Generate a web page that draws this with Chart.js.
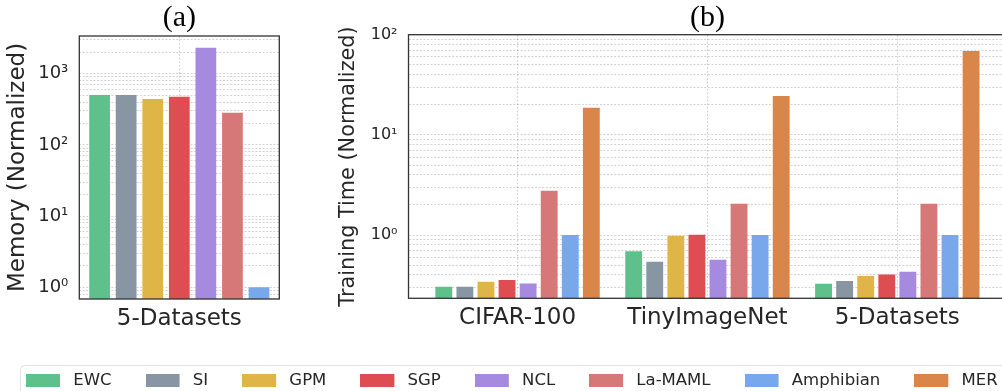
<!DOCTYPE html>
<html><head><meta charset="utf-8">
<script src="https://cdn.jsdelivr.net/npm/chart.js@4.4.1/dist/chart.umd.min.js"></script>
<style>
html,body{margin:0;padding:0;background:#fff;width:1002px;height:391px;overflow:hidden;position:relative}
canvas{position:absolute}
#ca{left:0;top:0}
#cb{left:330px;top:0}
#cl{left:-8px;top:338px}
</style></head><body>
<canvas id="ca" width="300" height="345"></canvas>
<canvas id="cb" width="700" height="345"></canvas>
<canvas id="cl" width="1100" height="100"></canvas>
<script>
// ---- data ----
const methods = ['EWC', 'SI', 'GPM', 'SGP', 'NCL', 'La-MAML', 'Amphibian', 'MER'];
const colors = ['#5ec08b', '#8896a4', '#e0b548', '#dd4d52', '#a68ae0', '#d77878', '#79a7ec', '#da854a'];

const memoryCategories = ['5-Datasets'];
const memoryMethods = ['EWC', 'SI', 'GPM', 'SGP', 'NCL', 'La-MAML', 'Amphibian'];
const memoryValues = [502, 502, 441, 475, 2320, 283, 1.0];

const timeCategories = ['CIFAR-100', 'TinyImageNet', '5-Datasets'];
const timeEWC = [0.305, 0.687, 0.326];
const timeSI = [0.305, 0.541, 0.347];
const timeGPM = [0.342, 0.985, 0.389];
const timeSGP = [0.355, 1.007, 0.404];
const timeNCL = [0.329, 0.567, 0.430];
const timeLaMAML = [2.77, 2.05, 2.05];
const timeAmphibian = [1.0, 1.0, 1.0];
const timeMER = [18.6, 24.4, 68.6];
const timeSeries = [timeEWC, timeSI, timeGPM, timeSGP, timeNCL, timeLaMAML, timeAmphibian, timeMER];

const memoryTicks = [0.7, 0.8, 0.9, 1, 2, 3, 4, 5, 6, 7, 8, 9, 10, 20, 30, 40, 50, 60, 70, 80, 90,
  100, 200, 300, 400, 500, 600, 700, 800, 900, 1000, 2000, 3000];
const memoryMajor = [1, 10, 100, 1000];
const memoryTickLabels = ['10⁰', '10¹', '10²', '10³'];

const timeTicks = [0.3, 0.4, 0.5, 0.6, 0.7, 0.8, 0.9, 1, 2, 3, 4, 5, 6, 7, 8, 9, 10,
  20, 30, 40, 50, 60, 70, 80, 90, 100];
const timeMajor = [1, 10, 100];
const timeTickLabels = ['10⁰', '10¹', '10²'];

// ---- style ----
const FONT = 'DejaVu Sans';
const TXT = '#262626';
const GRID = 'rgba(0,0,0,0.22)';
const DASH = [2, 1.6];

const frame = {
  id: 'frame',
  afterDatasetsDraw(chart) {
    const {ctx, chartArea: a} = chart;
    ctx.save();
    ctx.strokeStyle = '#333';
    ctx.lineWidth = 1.3;
    ctx.strokeRect(a.left, a.top, a.right - a.left, a.bottom - a.top);
    ctx.restore();
  }
};

function logY(ticksArr, major, labels, min, max, title, titleSize, titlePad, tickSize, width) {
  return {
    type: 'logarithmic', min, max,
    afterBuildTicks(s) { s.ticks = ticksArr.map(v => ({value: v})); },
    ticks: {
      autoSkip: false, padding: 11, color: TXT, font: {family: FONT, size: tickSize},
      callback: (v) => { const k = major.indexOf(v); return k < 0 ? '' : labels[k]; }
    },
    grid: {color: GRID, lineWidth: 0.8, drawTicks: false},
    border: {display: false, dash: DASH},
    title: {display: true, text: title, color: TXT, font: {family: FONT, size: titleSize, lineHeight: 1}, padding: {top: titlePad, bottom: 0}},
    afterFit(s) { s.width = width; }
  };
}

function topTitle(text, type, extra, h) {
  return Object.assign({
    type, position: 'top',
    grid: {display: false}, border: {display: false},
    ticks: {display: false},
    title: {display: true, text, color: '#000', font: {family: 'Liberation Serif', size: 30, lineHeight: 1}, padding: {top: 3, bottom: 0}},
    afterFit(s) { s.height = h; }
  }, extra);
}

// ---- chart (a) ----
new Chart(document.getElementById('ca'), {
  type: 'bar',
  data: {
    labels: memoryCategories,
    datasets: memoryMethods.map((m, i) => ({
      label: m, data: [memoryValues[i]], backgroundColor: colors[i], xAxisID: 'x', yAxisID: 'y'
    }))
  },
  options: {
    responsive: false, animation: false,
    layout: {padding: {left: 0, right: 20.7, top: 0, bottom: 0}},
    plugins: {legend: {display: false}, tooltip: {enabled: false}},
    datasets: {bar: {categoryPercentage: 0.93, barPercentage: 0.78}},
    scales: {
      x: {
        type: 'category', offset: true,
        grid: {offset: false, color: GRID, lineWidth: 0.8, drawTicks: false},
        border: {display: false, dash: DASH},
        ticks: {color: TXT, font: {family: FONT, size: 23, lineHeight: 1}, padding: 8.5},
        afterFit(s) { s.height = 46; }
      },
      xt: topTitle('(a)', 'category', {}, 36),
      y: logY(memoryTicks, memoryMajor, memoryTickLabels, 0.685, 3380, 'Memory (Normalized)', 23, 6.5, 18, 79.3)
    }
  },
  plugins: [frame]
});

// ---- chart (b) ----
new Chart(document.getElementById('cb'), {
  type: 'bar',
  data: {
    datasets: methods.map((m, i) => ({
      label: m,
      data: timeSeries[i].map((v, j) => ({x: j, y: v})),
      backgroundColor: colors[i], xAxisID: 'x', yAxisID: 'y'
    }))
  },
  options: {
    responsive: false, animation: false,
    layout: {padding: {left: 0, right: 23.6, top: 0, bottom: 0}},
    plugins: {legend: {display: false}, tooltip: {enabled: false}},
    datasets: {bar: {categoryPercentage: 0.888, barPercentage: 0.8}},
    scales: {
      x: {
        type: 'linear', min: -0.5745, max: 2.5745, offset: false,
        afterBuildTicks(s) { s.ticks = timeCategories.map((c, i) => ({value: i})); },
        grid: {offset: false, color: GRID, lineWidth: 0.8, drawTicks: false},
        border: {display: false, dash: DASH},
        ticks: {autoSkip: false, maxRotation: 0, color: TXT, font: {family: FONT, size: 23, lineHeight: 1}, padding: 8.5,
          callback: (v) => timeCategories[v] ?? ''},
        afterFit(s) { s.height = 46.7; }
      },
      xt: topTitle('(b)', 'linear', {min: 0, max: 1}, 34.7),
      y: logY(timeTicks, timeMajor, timeTickLabels, 0.2335, 100, 'Training Time (Normalized)', 20.8, 8.6, 16, 78.5)
    }
  },
  plugins: [frame]
});

// ---- legend ----
function patch(color) {
  const c = document.createElement('canvas');
  c.width = 39; c.height = 13;
  const g = c.getContext('2d');
  g.fillStyle = color;
  g.fillRect(0, 0, 34, 13);
  return c;
}
const legendFrame = {
  id: 'legendFrame',
  beforeDraw(chart) {
    const ctx = chart.ctx;
    ctx.save();
    ctx.strokeStyle = '#e2e2e2';
    ctx.lineWidth = 1;
    ctx.beginPath();
    ctx.roundRect(28.5, 27.5, 995, 60, 4);
    ctx.stroke();
    ctx.restore();
  }
};
new Chart(document.getElementById('cl'), {
  type: 'bar',
  data: {labels: [''], datasets: methods.map((m, i) => ({label: m, data: [], backgroundColor: colors[i]}))},
  options: {
    responsive: false, animation: false,
    scales: {x: {display: false}, y: {display: false}},
    plugins: {
      tooltip: {enabled: false},
      legend: {display: true, position: 'top', align: 'start',
        labels: {
          usePointStyle: true, pointStyleWidth: 39, boxHeight: 13, padding: 34,
          color: TXT, font: {family: FONT, size: 16.5},
          generateLabels(chart) {
            const items = Chart.defaults.plugins.legend.labels.generateLabels(chart);
            items.forEach((it, i) => { it.pointStyle = patch(colors[i]); it.lineWidth = 0; });
            return items;
          }
        }}
    }
  },
  plugins: [legendFrame]
});
</script>
</body></html>
